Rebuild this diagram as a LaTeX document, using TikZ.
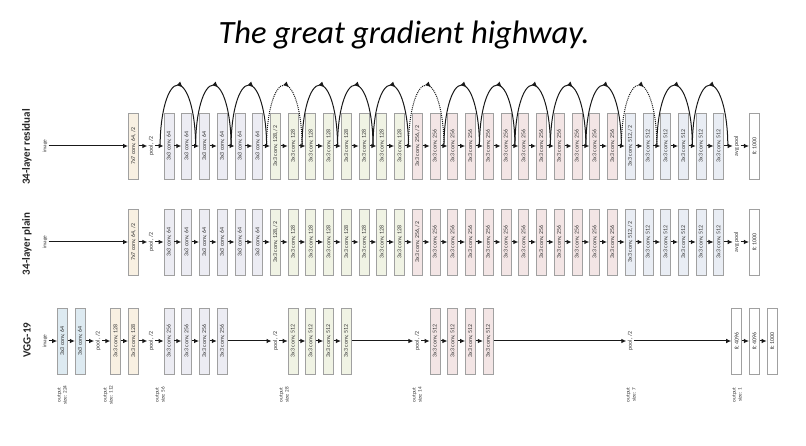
\documentclass[tikz,border=0pt]{standalone}
\usepackage{fontspec}
\setmainfont{Carlito}
\usepackage{graphicx}
\usetikzlibrary{arrows.meta,decorations.markings}
\definecolor{cBeige}{RGB}{248,240,226}
\definecolor{cLav}{RGB}{236,236,243}
\definecolor{cGreen}{RGB}{240,243,228}
\definecolor{cPink}{RGB}{243,229,229}
\definecolor{cBlue}{RGB}{233,237,244}
\definecolor{cSky}{RGB}{221,234,241}
\definecolor{cEdge}{RGB}{160,160,160}
\definecolor{cLine}{RGB}{25,25,25}
\definecolor{cText}{RGB}{50,50,50}
\newcommand{\rt}[1]{\rotatebox{90}{#1}}
\newcommand{\cx}[1]{169+17.74*(#1)}
\begin{document}
\begin{tikzpicture}[x=1pt,y=1pt,
  layer/.style={draw=cEdge, line width=0.9pt, minimum width=10pt, minimum height=66pt, inner sep=0pt, font=\fontsize{5.9}{7}\selectfont, text=cText},
  lbl/.style={inner sep=1.2pt, font=\fontsize{5.9}{7}\selectfont, text=cText},
  tinylbl/.style={inner sep=1.2pt, font=\fontsize{5.2}{6}\selectfont, text=cText},
  flow/.style={draw=cLine, line width=1pt, -{Latex[length=5pt,width=4.6pt]}},
  shortcut/.style={draw=cLine, line width=1pt, postaction={decorate}, decoration={markings, mark=at position 0.54 with {\arrow{Latex[length=5.5pt,width=5pt]}}}},
  shortcutdot/.style={shortcut, densely dotted},
  rowname/.style={rotate=90, font=\fontsize{11}{13}\selectfont\bfseries, text=black!85},
  outlbl/.style={rotate=90, align=center, font=\fontsize{5.2}{6}\selectfont, text=cText, inner sep=0pt},
]
\useasboundingbox (0,0) rectangle (806,-446);
\node[font=\fontsize{32.5}{38}\selectfont\itshape, anchor=base] (title) at (404,-44) {The great gradient highway.};

\node[rowname] (nr) at (27,-147) {34-layer residual};
\node[rowname] (np) at (27,-244) {34-layer plain};
\node[rowname] (nv) at (27,-340) {VGG-19};

\foreach \rw/\yy in {r/-146,p/-242} {
  \node[tinylbl] (\rw img) at (45,\yy) {\rt{image}};
  \node[layer, fill=cBeige] (\rw a) at ({\cx{-2}},\yy) {\rt{7x7 conv, 64, /2}};
  \node[lbl] (\rw b) at ({\cx{-1}},\yy) {\rt{pool, /2}};
  \foreach \k in {0,...,5} \node[layer, fill=cLav] (\rw c\k) at ({\cx{\k}},\yy) {\rt{3x3 conv, 64}};
  \node[layer, fill=cGreen] (\rw c6) at ({\cx{6}},\yy) {\rt{3x3 conv, 128, /2}};
  \foreach \k in {7,...,13} \node[layer, fill=cGreen] (\rw c\k) at ({\cx{\k}},\yy) {\rt{3x3 conv, 128}};
  \node[layer, fill=cPink] (\rw c14) at ({\cx{14}},\yy) {\rt{3x3 conv, 256, /2}};
  \foreach \k in {15,...,25} \node[layer, fill=cPink] (\rw c\k) at ({\cx{\k}},\yy) {\rt{3x3 conv, 256}};
  \node[layer, fill=cBlue] (\rw c26) at ({\cx{26}},\yy) {\rt{3x3 conv, 512, /2}};
  \foreach \k in {27,...,31} \node[layer, fill=cBlue] (\rw c\k) at ({\cx{\k}},\yy) {\rt{3x3 conv, 512}};
  \node[lbl] (\rw z) at ({\cx{32}},\yy) {\rt{avg pool}};
  \node[layer, fill=white] (\rw f) at ({\cx{33}},\yy) {\rt{fc 1000}};
  \draw[flow] (\rw img) -- (\rw a);
  \draw[flow] (\rw a) -- (\rw b);
  \draw[flow] (\rw b) -- (\rw c0);
  \foreach \k [count=\n from 1] in {0,...,30} \draw[flow] (\rw c\k) -- (\rw c\n);
  \draw[flow] (\rw c31) -- (\rw z);
  \draw[flow] (\rw z) -- (\rw f);
}

% shortcut connections
\foreach \m in {0,...,32} \coordinate (g\m) at ({\cx{\m-0.5}},-146);
\foreach \j in {0,...,15} \coordinate (t\j) at ({\cx{2*\j+0.5}},-85);
\foreach \j/\s in {0/shortcut,1/shortcut,2/shortcut,3/shortcutdot,4/shortcut,5/shortcut,6/shortcut,7/shortcutdot,8/shortcut,9/shortcut,10/shortcut,11/shortcut,12/shortcut,13/shortcutdot,14/shortcut,15/shortcut} {
  \pgfmathtruncatemacro\gL{2*\j}
  \pgfmathtruncatemacro\gR{2*\j+2}
  \draw[\s] (g\gL) to[out=90,in=180,out distance=33.7pt,in distance=9.8pt] (t\j) to[out=0,in=90,out distance=9.8pt,in distance=33.7pt] (g\gR);
}

% VGG-19
\node[tinylbl] (vimg) at (45,-341) {\rt{image}};
\node[layer, fill=cSky] (v1) at ({\cx{-6}},-341) {\rt{3x3 conv, 64}};
\node[layer, fill=cSky] (v2) at ({\cx{-5}},-341) {\rt{3x3 conv, 64}};
\node[lbl] (vp1) at ({\cx{-4}},-341) {\rt{pool, /2}};
\node[layer, fill=cBeige] (v3) at ({\cx{-3}},-341) {\rt{3x3 conv, 128}};
\node[layer, fill=cBeige] (v4) at ({\cx{-2}},-341) {\rt{3x3 conv, 128}};
\node[lbl] (vp2) at ({\cx{-1}},-341) {\rt{pool, /2}};
\foreach \k/\n in {0/5,1/6,2/7,3/8} \node[layer, fill=cLav] (v\n) at ({\cx{\k}},-341) {\rt{3x3 conv, 256}};
\node[lbl] (vp3) at ({\cx{6}},-341) {\rt{pool, /2}};
\foreach \k/\n in {7/9,8/10,9/11,10/12} \node[layer, fill=cGreen] (v\n) at ({\cx{\k}},-341) {\rt{3x3 conv, 512}};
\node[lbl] (vp4) at ({\cx{14}},-341) {\rt{pool, /2}};
\foreach \k/\n in {15/13,16/14,17/15,18/16} \node[layer, fill=cPink] (v\n) at ({\cx{\k}},-341) {\rt{3x3 conv, 512}};
\node[lbl] (vp5) at ({\cx{26}},-341) {\rt{pool, /2}};
\node[layer, fill=white] (vf1) at ({\cx{32}},-341) {\rt{fc 4096}};
\node[layer, fill=white] (vf2) at ({\cx{33}},-341) {\rt{fc 4096}};
\node[layer, fill=white] (vf3) at ({\cx{34}},-341) {\rt{fc 1000}};
\foreach \p/\q in {vimg/v1,v1/v2,v2/vp1,vp1/v3,v3/v4,v4/vp2,vp2/v5,v5/v6,v6/v7,v7/v8,v8/vp3,vp3/v9,v9/v10,v10/v11,v11/v12,v12/vp4,vp4/v13,v13/v14,v14/v15,v15/v16,v16/vp5,vp5/vf1,vf1/vf2,vf2/vf3}
  \draw[flow] (\p) -- (\q);

% output sizes
\foreach \xx/\s in {62/224,108/112,160/56,284/28,417/14,631/7,737/1}
  \node[outlbl] (o\s) at (\xx,-395) {output\\size: \s};
\end{tikzpicture}
\end{document}
